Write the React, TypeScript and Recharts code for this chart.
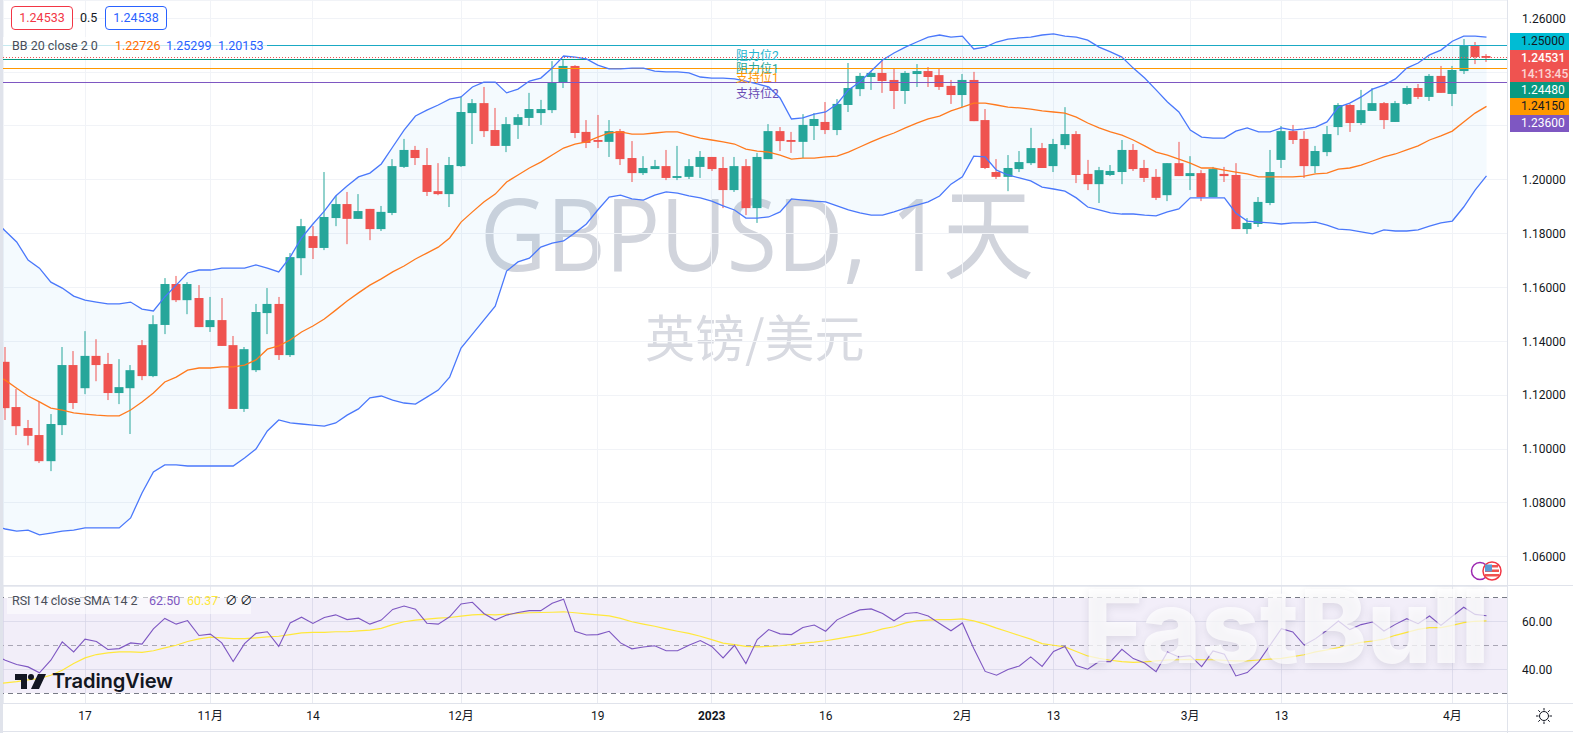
import {
  Area,
  Bar,
  CartesianGrid,
  ComposedChart,
  Line,
  ReferenceArea,
  ReferenceLine,
  XAxis,
  YAxis,
} from "recharts";

const UI_FONT = "Roboto, 'Noto Sans CJK SC', sans-serif";

// one candle per trading day, index 0 is the first one on screen
const opens = [
  1.1324, 1.1156, 1.1078, 1.1052, 1.0955, 1.1089, 1.1312, 1.1226, 1.1346, 1.1316,
  1.1208, 1.1226, 1.1386, 1.1271, 1.1461, 1.1613, 1.1553, 1.1561, 1.1453, 1.1479,
  1.1386, 1.1149, 1.1293, 1.1505, 1.1539, 1.1349, 1.1709, 1.1791, 1.1747, 1.1858,
  1.1910, 1.1855, 1.1892, 1.1817, 1.1877, 1.2048, 1.2111, 1.2055, 1.1958, 1.1947,
  1.2051, 1.2248, 1.2285, 1.2185, 1.2126, 1.2204, 1.2230, 1.2248, 1.2259, 1.2360,
  1.2423, 1.2178, 1.2148, 1.2141, 1.2181, 1.2081, 1.2025, 1.2040, 1.2051, 1.2007,
  1.2011, 1.2048, 1.2085, 1.2044, 1.1962, 1.2051, 1.1895, 1.2077, 1.2181, 1.2148,
  1.2141, 1.2200, 1.2215, 1.2185, 1.2278, 1.2337, 1.2382, 1.2397, 1.2371, 1.2330,
  1.2393, 1.2404, 1.2389, 1.2349, 1.2315, 1.2371, 1.2222, 1.2029, 1.2011, 1.2040,
  1.2062, 1.2118, 1.2051, 1.2129, 1.2170, 1.2022, 1.1984, 1.2018, 1.2029, 1.2111,
  1.2044, 1.2011, 1.1943, 1.2062, 1.2014, 1.2025, 1.1936, 1.2022, 1.2018, 1.1817,
  1.1836, 1.1914, 1.2074, 1.2181, 1.2152, 1.2051, 1.2103, 1.2196, 1.2278, 1.2211,
  1.2256, 1.2285, 1.2215, 1.2282, 1.2341, 1.2308, 1.2386, 1.2319, 1.2404, 1.2500,
  1.2460,
];
const highs = [
  1.1379, 1.1223, 1.1108, 1.1175, 1.1130, 1.1379, 1.1364, 1.1438, 1.1408, 1.1357,
  1.1334, 1.1312, 1.1405, 1.1497, 1.1635, 1.1643, 1.1620, 1.1609, 1.1565, 1.1561,
  1.1420, 1.1379, 1.1539, 1.1598, 1.1565, 1.1728, 1.1855, 1.1828, 1.2029, 1.1940,
  1.1955, 1.1947, 1.1892, 1.1903, 1.2077, 1.2152, 1.2126, 1.2118, 1.2062, 1.2085,
  1.2311, 1.2300, 1.2345, 1.2267, 1.2233, 1.2244, 1.2323, 1.2297, 1.2441, 1.2445,
  1.2426, 1.2222, 1.2241, 1.2222, 1.2189, 1.2144, 1.2088, 1.2074, 1.2111, 1.2126,
  1.2077, 1.2107, 1.2085, 1.2085, 1.2085, 1.2077, 1.2100, 1.2207, 1.2196, 1.2178,
  1.2244, 1.2248, 1.2289, 1.2300, 1.2434, 1.2397, 1.2404, 1.2449, 1.2412, 1.2404,
  1.2430, 1.2419, 1.2415, 1.2371, 1.2393, 1.2401, 1.2263, 1.2077, 1.2092, 1.2107,
  1.2193, 1.2137, 1.2152, 1.2270, 1.2181, 1.2074, 1.2048, 1.2055, 1.2148, 1.2133,
  1.2074, 1.2040, 1.2062, 1.2141, 1.2088, 1.2036, 1.2048, 1.2048, 1.2062, 1.1858,
  1.1936, 1.2111, 1.2200, 1.2204, 1.2181, 1.2126, 1.2200, 1.2285, 1.2282, 1.2334,
  1.2341, 1.2289, 1.2293, 1.2349, 1.2356, 1.2393, 1.2423, 1.2423, 1.2523, 1.2512,
  1.2467,
];
const lows = [
  1.1108, 1.1052, 1.1014, 1.0948, 1.0918, 1.1052, 1.1149, 1.1204, 1.1252, 1.1182,
  1.1167, 1.1056, 1.1256, 1.1267, 1.1427, 1.1546, 1.1501, 1.1453, 1.1435, 1.1383,
  1.1149, 1.1138, 1.1286, 1.1427, 1.1331, 1.1342, 1.1646, 1.1706, 1.1739, 1.1828,
  1.1761, 1.1855, 1.1776, 1.1810, 1.1869, 1.2044, 1.2055, 1.1940, 1.1943, 1.1899,
  1.2048, 1.2133, 1.2159, 1.2126, 1.2103, 1.2152, 1.2200, 1.2204, 1.2248, 1.2341,
  1.2155, 1.2118, 1.2118, 1.2085, 1.2055, 1.1992, 1.2018, 1.2040, 1.1999, 1.1999,
  1.2003, 1.2007, 1.2033, 1.1895, 1.1955, 1.1869, 1.1840, 1.2077, 1.2107, 1.2100,
  1.2081, 1.2148, 1.2170, 1.2166, 1.2252, 1.2311, 1.2334, 1.2323, 1.2263, 1.2282,
  1.2345, 1.2345, 1.2334, 1.2282, 1.2270, 1.2218, 1.2040, 1.2003, 1.1958, 1.2029,
  1.2055, 1.2044, 1.2029, 1.2114, 1.1988, 1.1962, 1.1914, 1.2014, 1.1984, 1.2033,
  1.1992, 1.1925, 1.1921, 1.2014, 1.1962, 1.1921, 1.1936, 1.1992, 1.1817, 1.1799,
  1.1825, 1.1906, 1.2044, 1.2133, 1.2007, 1.2025, 1.2088, 1.2166, 1.2178, 1.2204,
  1.2256, 1.2189, 1.2215, 1.2278, 1.2300, 1.2293, 1.2323, 1.2274, 1.2393, 1.2430,
  1.2438,
];
const closes = [
  1.1152, 1.1085, 1.1049, 1.0955, 1.1093, 1.1312, 1.1171, 1.1346, 1.1312, 1.1208,
  1.1230, 1.1293, 1.1271, 1.1464, 1.1613, 1.1553, 1.1613, 1.1453, 1.1479, 1.1383,
  1.1149, 1.1371, 1.1509, 1.1539, 1.1349, 1.1713, 1.1828, 1.1747, 1.1862, 1.1910,
  1.1855, 1.1884, 1.1817, 1.1881, 1.2051, 1.2111, 1.2081, 1.1955, 1.1947, 1.2055,
  1.2252, 1.2285, 1.2181, 1.2126, 1.2207, 1.2233, 1.2263, 1.2263, 1.2363, 1.2423,
  1.2174, 1.2137, 1.2141, 1.2181, 1.2077, 1.2025, 1.2044, 1.2051, 1.2007, 1.2014,
  1.2051, 1.2085, 1.2040, 1.1962, 1.2051, 1.1895, 1.2085, 1.2181, 1.2144, 1.2141,
  1.2204, 1.2226, 1.2185, 1.2282, 1.2341, 1.2386, 1.2397, 1.2367, 1.2330, 1.2397,
  1.2404, 1.2382, 1.2345, 1.2315, 1.2371, 1.2218, 1.2044, 1.2011, 1.2044, 1.2066,
  1.2118, 1.2044, 1.2133, 1.2170, 1.2018, 1.1984, 1.2036, 1.2033, 1.2111, 1.2040,
  1.2007, 1.1933, 1.2062, 1.2014, 1.2025, 1.1936, 1.2040, 1.2014, 1.1817, 1.1840,
  1.1918, 1.2029, 1.2181, 1.2148, 1.2051, 1.2107, 1.2170, 1.2278, 1.2211, 1.2259,
  1.2285, 1.2222, 1.2285, 1.2341, 1.2308, 1.2386, 1.2323, 1.2408, 1.2500, 1.2456,
  1.2453,
];

// these series start one day earlier so the lines run off the left edge
const bbUpper = [
  1.1851,
  1.1810, 1.1769, 1.1702, 1.1672, 1.1620, 1.1598, 1.1568, 1.1553, 1.1546, 1.1539,
  1.1539, 1.1546, 1.1520, 1.1513, 1.1565, 1.1609, 1.1654, 1.1665, 1.1665, 1.1672,
  1.1672, 1.1672, 1.1684, 1.1672, 1.1658, 1.1713, 1.1784, 1.1836, 1.1884, 1.1940,
  1.1977, 1.2011, 1.2025, 1.2059, 1.2122, 1.2185, 1.2237, 1.2259, 1.2278, 1.2300,
  1.2308, 1.2345, 1.2363, 1.2363, 1.2323, 1.2337, 1.2367, 1.2378, 1.2415, 1.2460,
  1.2456, 1.2449, 1.2426, 1.2412, 1.2412, 1.2415, 1.2415, 1.2404, 1.2401, 1.2401,
  1.2397, 1.2382, 1.2378, 1.2378, 1.2375, 1.2367, 1.2356, 1.2345, 1.2304, 1.2226,
  1.2230, 1.2244, 1.2252, 1.2282, 1.2334, 1.2363, 1.2404, 1.2445, 1.2471, 1.2493,
  1.2512, 1.2530, 1.2538, 1.2530, 1.2534, 1.2486, 1.2493, 1.2512, 1.2523, 1.2527,
  1.2530, 1.2538, 1.2542, 1.2534, 1.2530, 1.2519, 1.2493, 1.2475, 1.2456, 1.2415,
  1.2378, 1.2334, 1.2289, 1.2252, 1.2185, 1.2159, 1.2155, 1.2155, 1.2181, 1.2193,
  1.2178, 1.2178, 1.2193, 1.2185, 1.2189, 1.2196, 1.2215, 1.2270, 1.2285, 1.2308,
  1.2337, 1.2352, 1.2375, 1.2415, 1.2434, 1.2464, 1.2482, 1.2515, 1.2534, 1.2534,
  1.2530,
];
const bbBasis = [
  1.1278,
  1.1256, 1.1226, 1.1197, 1.1175, 1.1152, 1.1145, 1.1134, 1.1130, 1.1126, 1.1123,
  1.1123, 1.1145, 1.1175, 1.1208, 1.1249, 1.1267, 1.1293, 1.1301, 1.1301, 1.1305,
  1.1305, 1.1312, 1.1331, 1.1371, 1.1383, 1.1405, 1.1435, 1.1457, 1.1483, 1.1516,
  1.1550, 1.1580, 1.1609, 1.1632, 1.1658, 1.1680, 1.1706, 1.1728, 1.1750, 1.1784,
  1.1843, 1.1881, 1.1918, 1.1947, 1.1992, 1.2018, 1.2044, 1.2066, 1.2092, 1.2118,
  1.2133, 1.2141, 1.2159, 1.2174, 1.2178, 1.2170, 1.2170, 1.2174, 1.2178, 1.2178,
  1.2166, 1.2155, 1.2148, 1.2141, 1.2133, 1.2114, 1.2107, 1.2103, 1.2092, 1.2077,
  1.2081, 1.2081, 1.2085, 1.2088, 1.2103, 1.2122, 1.2141, 1.2159, 1.2174, 1.2193,
  1.2211, 1.2226, 1.2237, 1.2256, 1.2270, 1.2285, 1.2285, 1.2278, 1.2270, 1.2267,
  1.2263, 1.2256, 1.2252, 1.2248, 1.2233, 1.2211, 1.2193, 1.2178, 1.2166, 1.2148,
  1.2126, 1.2103, 1.2092, 1.2077, 1.2062, 1.2044, 1.2044, 1.2036, 1.2029, 1.2022,
  1.2011, 1.2011, 1.2011, 1.2011, 1.2014, 1.2022, 1.2025, 1.2040, 1.2044, 1.2055,
  1.2070, 1.2085, 1.2096, 1.2111, 1.2126, 1.2148, 1.2163, 1.2181, 1.2215, 1.2248,
  1.2273,
];
const bbLower = [
  1.0714,
  1.0703, 1.0695, 1.0699, 1.0681, 1.0688, 1.0695, 1.0699, 1.0707, 1.0707, 1.0707,
  1.0707, 1.0744, 1.0837, 1.0915, 1.0941, 1.0941, 1.0937, 1.0937, 1.0937, 1.0937,
  1.0937, 1.0967, 1.1000, 1.1067, 1.1108, 1.1097, 1.1093, 1.1089, 1.1085, 1.1097,
  1.1126, 1.1149, 1.1190, 1.1197, 1.1182, 1.1171, 1.1167, 1.1193, 1.1219, 1.1267,
  1.1375, 1.1427, 1.1479, 1.1531, 1.1661, 1.1695, 1.1709, 1.1750, 1.1765, 1.1773,
  1.1803, 1.1836, 1.1888, 1.1936, 1.1943, 1.1929, 1.1925, 1.1943, 1.1955, 1.1951,
  1.1940, 1.1933, 1.1921, 1.1903, 1.1888, 1.1858, 1.1858, 1.1862, 1.1881, 1.1929,
  1.1925, 1.1921, 1.1918, 1.1903, 1.1888, 1.1877, 1.1869, 1.1869, 1.1881, 1.1895,
  1.1906, 1.1918, 1.1940, 1.1984, 1.2011, 1.2088, 1.2085, 1.2036, 1.2018, 1.2007,
  1.1996, 1.1973, 1.1966, 1.1958, 1.1933, 1.1899, 1.1888, 1.1877, 1.1873, 1.1873,
  1.1869, 1.1866, 1.1881, 1.1892, 1.1933, 1.1933, 1.1933, 1.1933, 1.1877, 1.1847,
  1.1843, 1.1840, 1.1836, 1.1840, 1.1840, 1.1843, 1.1832, 1.1817, 1.1814, 1.1807,
  1.1799, 1.1814, 1.1810, 1.1810, 1.1814, 1.1828, 1.1840, 1.1847, 1.1899, 1.1962,
  1.2015,
];
const rsi = [
  46.0,
  43.8, 42.0, 41.0, 38.5, 43.8, 51.5, 47.3, 52.7, 51.7, 48.3,
  48.7, 51.1, 50.6, 57.0, 61.4, 59.0, 60.5, 54.2, 54.8, 51.1,
  43.3, 50.8, 55.1, 55.8, 49.6, 59.5, 61.9, 59.3, 61.8, 62.9,
  60.9, 61.5, 59.0, 60.7, 65.2, 66.6, 65.3, 59.4, 59.0, 62.1,
  67.5, 68.2, 63.5, 60.7, 62.8, 63.9, 64.7, 64.7, 67.8, 69.5,
  56.0, 54.4, 54.6, 56.0, 51.1, 48.6, 49.4, 49.9, 47.8, 47.8,
  50.1, 52.1, 49.6, 44.8, 50.1, 42.4, 52.5, 56.7, 54.9, 54.6,
  57.6, 58.6, 56.0, 60.8, 63.1, 65.0, 65.4, 63.5, 60.4, 63.5,
  63.9, 62.4, 59.3, 56.2, 59.5, 48.7, 39.1, 37.5, 39.9, 41.4,
  45.2, 41.2, 47.5, 49.6, 41.6, 40.0, 43.3, 43.2, 48.4, 44.5,
  42.6, 39.0, 47.3, 45.2, 45.7, 41.1, 47.7, 46.3, 37.2, 38.6,
  43.1, 50.1, 57.1, 55.7, 50.2, 52.9, 56.4, 60.3, 56.7, 58.8,
  59.9, 56.1, 58.9, 61.3, 59.2, 62.4, 58.5, 62.3, 66.1, 63.1,
  62.5,
];
const rsiSma = [
  33.7,
  34.3, 34.8, 35.5, 36.1, 37.5, 39.6, 42.4, 44.8, 46.2, 46.9,
  47.3, 47.3, 47.1, 47.8, 49.0, 50.1, 51.7, 52.8, 53.5, 53.2,
  52.9, 52.9, 53.2, 53.6, 53.9, 54.6, 55.3, 55.5, 55.5, 55.8,
  55.8, 56.2, 56.5, 57.2, 58.8, 60.0, 60.7, 61.1, 61.5, 61.8,
  62.4, 62.9, 63.1, 62.9, 63.2, 63.5, 63.8, 63.9, 64.0, 64.2,
  63.8, 63.3, 62.9, 62.5, 61.4, 60.0, 59.0, 58.1, 57.0, 56.0,
  55.1, 53.9, 52.5, 51.0, 50.4, 49.6, 49.4, 49.6, 49.9, 50.4,
  51.0, 51.4, 52.0, 52.8, 53.6, 54.5, 55.6, 57.0, 57.9, 59.5,
  60.4, 60.7, 60.9, 60.9, 61.2, 60.4, 59.0, 57.3, 55.8, 54.2,
  52.7, 50.8, 50.1, 49.4, 47.5, 45.6, 44.6, 43.8, 43.2, 42.9,
  43.1, 43.5, 43.9, 44.0, 44.2, 44.0, 44.0, 43.8, 43.5, 43.5,
  43.9, 44.3, 44.6, 45.3, 46.1, 47.3, 48.2, 49.1, 50.2, 51.3,
  51.9, 52.7, 54.3, 55.5, 56.8, 57.5, 57.5, 58.5, 59.6, 60.2,
  60.37,
];

const dateTickIndex = [7, 18, 27, 40, 52, 62, 72, 84, 92, 104, 112, 127];
const dateTickLabels = ["17", "11月", "14", "12月", "19", "2023", "16", "2月", "13", "3月", "13", "4月"];
const priceTicks = [1.06, 1.08, 1.1, 1.12, 1.14, 1.16, 1.18, 1.2, 1.22, 1.24, 1.26];
const rsiTicks = [40, 60];

const levels = [
  { value: 1.25, color: "#1aa9c4" },
  { value: 1.2448, color: "#089981" },
  { value: 1.2415, color: "#ff9800" },
  { value: 1.236, color: "#7e57c2" },
];

const levelLabels = [
  { text: "阻力位2", color: "#26b4cf", top: 48 },
  { text: "阻力位1", color: "#26a69a", top: 61 },
  { text: "支持位1", color: "#ff9800", top: 70 },
  { text: "支持位2", color: "#6a4cb5", top: 86 },
];

const priceTags = [
  { text: "1.25000", bg: "#00bcd4", fg: "#131722", top: 33, height: 17 },
  { text: "1.24480", bg: "#089981", fg: "#ffffff", top: 82, height: 16 },
  { text: "1.24150", bg: "#ff9800", fg: "#131722", top: 98, height: 17 },
  { text: "1.23600", bg: "#7e57c2", fg: "#ffffff", top: 115, height: 17 },
];

const rows = bbUpper.map((upper, k) => ({
  idx: k - 1,
  open: opens[k - 1],
  high: highs[k - 1],
  low: lows[k - 1],
  close: closes[k - 1],
  upper,
  basis: bbBasis[k],
  lower: bbLower[k],
  rsi: rsi[k],
  sma: rsiSma[k],
}));

const X_DOMAIN: [number, number] = [-0.2, 131.8];
const GRID = "#f1f3f7";
const BORDER = "#e0e3eb";
const UP = "#26a69a";
const DOWN = "#ef5350";

const Candle = (props: any) => {
  const { x, y, width, height, payload } = props;
  if (payload.open == null) return null;
  const perUnit = height / (payload.high - payload.low);
  const top = y + (payload.high - Math.max(payload.open, payload.close)) * perUnit;
  const bottom = y + (payload.high - Math.min(payload.open, payload.close)) * perUnit;
  const color = payload.close >= payload.open ? UP : DOWN;
  const mid = Math.round(x + width / 2);
  return (
    <g>
      <rect x={mid - 0.5} y={y} width={1} height={height} fill={color} />
      <rect x={mid - 4.5} y={top} width={9} height={Math.max(bottom - top, 1)} fill={color} />
    </g>
  );
};

const DateTick = (props: any) => {
  const { x, y, payload } = props;
  const label = dateTickLabels[dateTickIndex.indexOf(payload.value)];
  return (
    <text
      x={x}
      y={y}
      textAnchor="middle"
      dominantBaseline="central"
      fontSize={12}
      fontFamily={UI_FONT}
      fontWeight={label === "2023" ? 700 : 400}
      fill="#131722"
    >
      {label}
    </text>
  );
};

const text = (style: React.CSSProperties): React.CSSProperties => ({
  position: "absolute",
  fontFamily: UI_FONT,
  whiteSpace: "nowrap",
  ...style,
});

const MainChart = () => (
  <ComposedChart
    width={1573}
    height={585}
    data={rows}
    margin={{ top: 0, right: 0, bottom: 0, left: 3 }}
    style={{ position: "absolute", left: 0, top: 0 }}
  >
    <CartesianGrid stroke={GRID} shapeRendering="crispEdges" />
    <XAxis
      dataKey="idx"
      type="number"
      scale="linear"
      domain={X_DOMAIN}
      ticks={dateTickIndex}
      interval={0}
      allowDataOverflow
      hide
    />
    <YAxis
      orientation="right"
      width={66}
      domain={[1.0495, 1.2668]}
      ticks={priceTicks}
      interval={0}
      allowDataOverflow
      axisLine={false}
      tickLine={false}
      tickSize={0}
      tickMargin={15}
      tickFormatter={(v: number) => v.toFixed(5)}
      tick={{ fontSize: 12, fontFamily: UI_FONT, fill: "#131722", textAnchor: "start" }}
    />
    {levels.map((l) => (
      <ReferenceLine key={l.value} y={l.value} stroke={l.color} strokeWidth={1} shapeRendering="crispEdges" />
    ))}
    <Area
      dataKey={(d: any) => [d.lower, d.upper]}
      stroke="none"
      fill="#2196f3"
      fillOpacity={0.05}
      isAnimationActive={false}
      dot={false}
      activeDot={false}
    />
    <Line dataKey="upper" stroke="#4a78fb" strokeWidth={1.3} dot={false} isAnimationActive={false} />
    <Line dataKey="lower" stroke="#4a78fb" strokeWidth={1.3} dot={false} isAnimationActive={false} />
    <Line dataKey="basis" stroke="#ff7a1e" strokeWidth={1.3} dot={false} isAnimationActive={false} />
    <ReferenceLine y={1.24531} stroke={DOWN} strokeWidth={1} strokeDasharray="1 2" shapeRendering="crispEdges" />
    <Bar
      dataKey={(d: any) => (d.high == null ? null : [d.low, d.high])}
      barSize={9}
      shape={Candle}
      isAnimationActive={false}
    />
  </ComposedChart>
);

const RsiChart = () => (
  <ComposedChart
    width={1573}
    height={147}
    data={rows}
    margin={{ top: 0, right: 0, bottom: 0, left: 3 }}
    style={{ position: "absolute", left: 0, top: 586 }}
  >
    <CartesianGrid stroke={BORDER} strokeOpacity={0.7} shapeRendering="crispEdges" />
    <XAxis
      dataKey="idx"
      type="number"
      scale="linear"
      domain={X_DOMAIN}
      ticks={dateTickIndex}
      interval={0}
      allowDataOverflow
      height={30}
      axisLine={false}
      tickLine={false}
      tickSize={0}
      tickMargin={13}
      tick={DateTick}
    />
    <YAxis
      orientation="right"
      width={66}
      domain={[25.8, 75.05]}
      ticks={rsiTicks}
      interval={0}
      allowDataOverflow
      axisLine={false}
      tickLine={false}
      tickSize={0}
      tickMargin={15}
      tickFormatter={(v: number) => v.toFixed(2)}
      tick={{ fontSize: 12, fontFamily: UI_FONT, fill: "#131722", textAnchor: "start" }}
    />
    <ReferenceArea y1={30} y2={70} fill="#7e57c2" fillOpacity={0.1} stroke="none" />
    <ReferenceLine y={70} stroke="#787b86" strokeDasharray="5 4" shapeRendering="crispEdges" />
    <ReferenceLine y={50} stroke="#a9a6b5" strokeDasharray="5 4" shapeRendering="crispEdges" />
    <ReferenceLine y={30} stroke="#787b86" strokeDasharray="5 4" shapeRendering="crispEdges" />
    <Line dataKey="sma" stroke="#ffe83b" strokeWidth={1.2} dot={false} isAnimationActive={false} />
    <Line dataKey="rsi" stroke="#7e57c2" strokeWidth={1.1} dot={false} isAnimationActive={false} />
  </ComposedChart>
);

export default function App() {
  return (
    <div style={{ position: "absolute", left: 0, top: 0, width: 1573, height: 733, background: "#fff", overflow: "hidden" }}>
      {/* symbol watermark sits under the plot */}
      <div style={text({ left: 480, top: 167, fontSize: 100, lineHeight: "130px", color: "#d1d4dc", fontFamily: "'Open Sans', 'Noto Sans CJK SC', sans-serif", transform: "scaleX(0.913)", transformOrigin: "left top" })}>
        GBPUSD, 1天
      </div>
      <div style={text({ left: 645, top: 301, fontSize: 50, lineHeight: "68px", color: "#d8dae1", fontFamily: "'Noto Sans CJK SC', sans-serif" })}>
        英镑/美元
      </div>

      <MainChart />
      <RsiChart />

      {/* frame */}
      <div style={{ position: "absolute", left: 0, top: 0, width: 3, height: 733, background: BORDER }} />
      <div style={{ position: "absolute", left: 1507, top: 0, width: 1, height: 733, background: BORDER }} />
      <div style={{ position: "absolute", left: 3, top: 585, width: 1570, height: 1, background: BORDER }} />
      <div style={{ position: "absolute", left: 3, top: 703, width: 1570, height: 1, background: BORDER }} />
      <div style={{ position: "absolute", left: 0, top: 731, width: 1573, height: 1, background: BORDER }} />

      {levelLabels.map((l) => (
        <div key={l.text} style={text({ left: 736, top: l.top, fontSize: 12, lineHeight: "16px", color: l.color })}>
          {l.text}
        </div>
      ))}

      {/* buy / sell boxes */}
      <div style={text({ left: 11, top: 6, width: 60, height: 22, border: "1px solid #f23645", borderRadius: 4, color: "#f23645", fontSize: 12.5, lineHeight: "22px", textAlign: "center", background: "#fff" })}>
        1.24533
      </div>
      <div style={text({ left: 80, top: 8, fontSize: 12.5, lineHeight: "20px", color: "#131722" })}>0.5</div>
      <div style={text({ left: 105, top: 6, width: 60, height: 22, border: "1px solid #2962ff", borderRadius: 4, color: "#2962ff", fontSize: 12.5, lineHeight: "22px", textAlign: "center", background: "#fff" })}>
        1.24538
      </div>

      {/* indicator legends */}
      <div style={{ position: "absolute", left: 3, top: 37, width: 264, height: 18, background: "rgba(255,255,255,0.75)" }} />
      <div style={text({ left: 12, top: 38, fontSize: 12.5, lineHeight: "16px", color: "#4a4e59" })}>BB 20 close 2 0</div>
      <div style={text({ left: 115, top: 38, fontSize: 12.5, lineHeight: "16px", color: "#ff6d00" })}>1.22726</div>
      <div style={text({ left: 166, top: 38, fontSize: 12.5, lineHeight: "16px", color: "#2962ff" })}>1.25299</div>
      <div style={text({ left: 218, top: 38, fontSize: 12.5, lineHeight: "16px", color: "#2962ff" })}>1.20153</div>

      <div style={{ position: "absolute", left: 7, top: 590, width: 244, height: 24, background: "rgba(255,255,255,0.55)" }} />
      <div style={text({ left: 12, top: 593, fontSize: 12.5, lineHeight: "16px", color: "#4a4e59" })}>RSI 14 close SMA 14 2</div>
      <div style={text({ left: 149, top: 593, fontSize: 12.5, lineHeight: "16px", color: "#7e57c2" })}>62.50</div>
      <div style={text({ left: 187, top: 593, fontSize: 12.5, lineHeight: "16px", color: "#ffe83b" })}>60.37</div>
      <div style={text({ left: 225, top: 593, fontSize: 12.5, lineHeight: "16px", color: "#131722" })}>∅</div>
      <div style={text({ left: 240, top: 593, fontSize: 12.5, lineHeight: "16px", color: "#131722" })}>∅</div>

      {/* price tags on the axis */}
      {priceTags.map((t) => (
        <div key={t.text} style={text({ left: 1510, top: t.top, width: 48, height: t.height, background: t.bg, color: t.fg, fontSize: 12, lineHeight: `${t.height}px`, paddingLeft: 11 })}>
          {t.text}
        </div>
      ))}
      <div style={text({ left: 1510, top: 50, width: 48, height: 32, background: DOWN, color: "#fff", fontSize: 12, lineHeight: "16px", paddingLeft: 11, fontWeight: 500 })}>
        1.24531
        <br />
        <span style={{ opacity: 0.75 }}>14:13:45</span>
      </div>

      {/* TradingView mark */}
      <svg style={{ position: "absolute", left: 15, top: 673 }} width={31} height={17} viewBox="0 0 31 17">
        <path d="M0 1h12v15H6V7H0z" fill="#131722" />
        <circle cx="16" cy="4" r="3" fill="#131722" />
        <path d="M23 1h8l-7 15h-8z" fill="#131722" />
      </svg>
      <div style={text({ left: 52, top: 667, fontSize: 20.2, lineHeight: "28px", fontWeight: 600, color: "#131722", fontFamily: "Inter, sans-serif", letterSpacing: -0.2 })}>
        TradingView
      </div>

      {/* FastBull watermark */}
      <div style={text({ left: 1083, top: 565, fontSize: 102, lineHeight: "122px", fontWeight: 800, color: "rgba(255,255,255,0.72)", fontFamily: "Inter, sans-serif", textShadow: "0 3px 8px rgba(60,60,80,0.12)" })}>
        FastBull
      </div>

      {/* event badges */}
      <svg style={{ position: "absolute", left: 1470, top: 559 }} width={36} height={24} viewBox="0 0 36 24">
        <circle cx="10" cy="12" r="8.5" fill="#fff" stroke="#9c27b0" strokeWidth={1.5} />
        <circle cx="22" cy="12" r="9" fill="#fff" stroke="#f23645" strokeWidth={1.5} />
        <rect x="16" y="6" width="12" height="2.5" fill="#ef5350" />
        <rect x="15" y="10.5" width="14" height="2.5" fill="#ef5350" />
        <rect x="15" y="15" width="14" height="2.5" fill="#ef5350" />
        <rect x="15" y="5.5" width="7" height="7" fill="#5b9bd5" />
      </svg>

      {/* settings sun */}
      <svg style={{ position: "absolute", left: 1535, top: 707 }} width={18} height={18} viewBox="0 0 18 18">
        <circle cx="9" cy="9" r="4.5" fill="none" stroke="#131722" />
        <path d="M9 1v2.5M9 14.5V17M1 9h2.5M14.5 9H17M3.3 3.3l1.8 1.8M12.9 12.9l1.8 1.8M3.3 14.7l1.8-1.8M12.9 5.1l1.8-1.8" stroke="#131722" />
      </svg>
    </div>
  );
}
